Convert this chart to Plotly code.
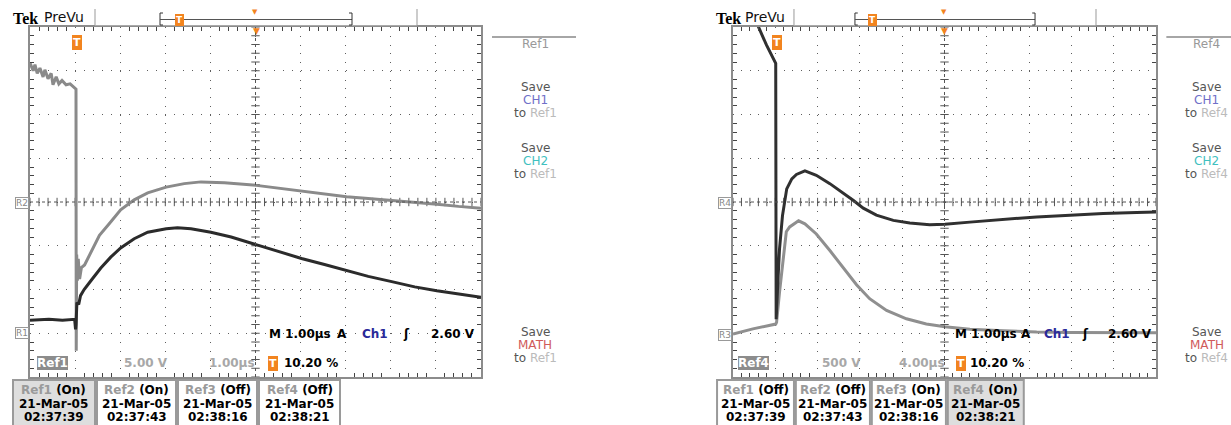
import numpy as np
import plotly.graph_objects as go

W, H = 1231, 425

# ---------------- values read from the two saved screens ----------------
# Left screen: 1.00 us/div, 5.00 V/div, time in us relative to trigger
left_ref2_t = [-1.02, -0.95, -0.91, -0.86, -0.80, -0.73, -0.69, -0.62, -0.55, -0.51, -0.44, -0.38, -0.31,
               -0.22, -0.13, -0.04, 0.00, 0.005, 0.015, 0.03, 0.05, 0.08, 0.12, 0.19, 0.29, 0.52, 0.75,
               0.99, 1.29, 1.59, 2.00, 2.40, 2.77, 3.29, 4.00, 4.48, 5.00, 5.51, 6.00, 6.48, 7.00, 7.51,
               8.00, 8.48, 8.98]
left_ref2_v = [15.9, 15.0, 15.7, 14.7, 15.3, 14.3, 15.1, 14.1, 14.7, 13.4, 14.3, 13.5, 13.9,
               13.4, 13.5, 13.0, 12.9, -17.0, -6.0, -9.0, -6.5, -8.8, -7.5, -7.2, -6.2, -3.8, -2.4,
               -0.9, 0.25, 1.05, 1.7, 2.1, 2.3, 2.2, 1.9, 1.6, 1.25, 0.9, 0.6, 0.4, 0.2, 0.0,
               -0.25, -0.5, -0.7]
left_ref1_t = [-1.02, -0.60, -0.30, -0.03, -0.01, 0.00, 0.02, 0.06, 0.10, 0.18, 0.33, 0.55, 0.77, 0.99,
               1.29, 1.59, 2.00, 2.25, 2.55, 2.99, 3.44, 4.00, 4.48, 5.00, 5.51, 6.00, 6.48, 7.00,
               7.51, 8.00, 8.48, 8.98]
left_ref1_v = [1.5, 1.6, 1.5, 1.6, 0.45, 1.0, 3.5, 3.3, 4.3, 5.0, 6.0, 7.45, 8.7, 9.75,
               10.8, 11.55, 11.95, 12.05, 11.95, 11.55, 11.0, 10.1, 9.35, 8.55, 7.85, 7.15, 6.5, 5.9,
               5.3, 4.85, 4.45, 4.1]

# Right screen: 4.00 us/div, 500 V/div
right_ref4_t = [-4.08, -1.72, -0.92, -0.04, 0.00, 0.16, 0.32, 0.60, 1.00, 1.48, 1.92, 2.72, 3.80, 5.08,
                6.32, 7.28, 8.24, 9.48, 11.08, 12.64, 14.52, 15.96, 18.32, 21.48, 24.64, 27.80, 30.92,
                34.08, 35.92]
right_ref4_v = [2665, 2015, 1795, 1585, -1340, -915, -535, -155, 150, 265, 315, 355, 305, 210,
                105, 20, -70, -150, -210, -240, -260, -255, -230, -200, -170, -150, -130,
                -120, -115]
right_ref3_t = [-4.08, -2.20, -0.04, 0.04, 0.32, 0.64, 0.96, 1.28, 2.12, 2.72, 3.80, 5.08, 6.32, 7.60,
                8.84, 10.44, 12.32, 14.20, 15.96, 18.32, 21.48, 24.64, 27.80, 30.92, 35.92]
right_ref3_v = [-10, 50, 105, 125, 470, 850, 1160, 1215, 1285, 1250, 1135, 945, 755, 555,
                395, 260, 165, 105, 75, 45, 30, 15, 10, 5, 5]

left_buttons = [("Ref1", "(On)", "21-Mar-05", "02:37:39"), ("Ref2", "(On)", "21-Mar-05", "02:37:43"),
                ("Ref3", "(Off)", "21-Mar-05", "02:38:16"), ("Ref4", "(Off)", "21-Mar-05", "02:38:21")]
right_buttons = [("Ref1", "(Off)", "21-Mar-05", "02:37:39"), ("Ref2", "(Off)", "21-Mar-05", "02:37:43"),
                 ("Ref3", "(On)", "21-Mar-05", "02:38:16"), ("Ref4", "(On)", "21-Mar-05", "02:38:21")]

screens = [
    dict(xa="x", ya="y", t0=-1.02, tdiv=1.0, vdiv=5.0, X=lambda x: x, dom=(30, 481),
         traces=[(left_ref2_t, left_ref2_v, 0, "#8a8a8a"), (left_ref1_t, left_ref1_v, -3, "#2b2b2b")],
         ref="Ref1", vscale="5.00 V", tscale="1.00\u00b5s", markers=[("R2", 203), ("R1", 333)],
         buttons=left_buttons, hi=0),
    dict(xa="x2", ya="y2", t0=-4.08, tdiv=4.0, vdiv=500.0, X=lambda x: 733 + (x - 30) * 0.938, dom=(733, 1156),
         traces=[(right_ref3_t, right_ref3_v, -3, "#8f8f8f"), (right_ref4_t, right_ref4_v, 0, "#303030")],
         ref="Ref4", vscale="500 V", tscale="4.00\u00b5s", markers=[("R4", 203), ("R3", 335)],
         buttons=right_buttons, hi=3),
]

TOP, BOT = 27, 377
FONT = "DejaVu Sans"
ORANGE = "#f2841f"

fig = go.Figure()
shapes, annos = [], []


def px(x):
    return x / W


def py(y):
    return 1 - y / H


def line(x0, y0, x1, y1, color="#999", width=1, dash=None):
    shapes.append(dict(type="line", xref="paper", yref="paper", x0=px(x0), y0=py(y0), x1=px(x1), y1=py(y1),
                       line=dict(color=color, width=width, dash=dash)))


def rect(x0, y0, x1, y1, color="#999", fill=None, width=2):
    shapes.append(dict(type="rect", xref="paper", yref="paper", x0=px(x0), y0=py(y0), x1=px(x1), y1=py(y1),
                       line=dict(color=color, width=width), fillcolor=fill, layer="below"))


def txt(x, y, s, size=12, color="#000", bold=False, family=FONT, bg=None, border=None, xanchor="center", pad=0):
    annos.append(dict(x=px(x), y=py(y), xref="paper", yref="paper", text=("<b>%s</b>" % s) if bold else s,
                      showarrow=False, font=dict(family=family, size=size, color=color), xanchor=xanchor,
                      yanchor="middle", bgcolor=bg, bordercolor=border, borderwidth=1 if border else 0,
                      borderpad=pad))


layout_axes = {}
for i, s in enumerate(screens):
    n = "" if i == 0 else "2"
    t0, td = s["t0"], s["tdiv"]
    xw = (s["dom"][1] - s["dom"][0]) / 10.0
    common = dict(showgrid=True, gridcolor="#5e5e5e", gridwidth=1, zeroline=False, showticklabels=False,
                  ticks="", showline=True, linecolor="#8c8c8c", linewidth=2, mirror="allticks",
                  fixedrange=True)
    layout_axes["xaxis" + n] = dict(domain=[px(s["dom"][0]), px(s["dom"][1])], range=[t0, t0 + 10 * td],
                                    tickmode="linear", tick0=t0, dtick=td, anchor="y" + n,
                                    griddash="1px,%.2fpx" % ((BOT - TOP) / 40.0 - 1),
                                    minor=dict(tick0=t0, dtick=td / 5, ticks="inside", ticklen=4,
                                               tickcolor="#444", tickwidth=1, showgrid=False), **common)
    layout_axes["yaxis" + n] = dict(domain=[py(BOT), py(TOP)], range=[-4, 4], tickmode="linear", tick0=-4,
                                    dtick=1, anchor="x" + n, griddash="1px,%.2fpx" % (xw / 5 - 1),
                                    minor=dict(tick0=-4, dtick=0.2, ticks="inside", ticklen=4,
                                               tickcolor="#444", tickwidth=1, showgrid=False), **common)
    cx = t0 + 5 * td
    # centre cross (dense dotted with fine ticks)
    shapes.append(dict(type="line", xref=s["xa"], yref=s["ya"], x0=cx, x1=cx, y0=-4, y1=4,
                       line=dict(color="#555", width=1, dash="dot")))
    shapes.append(dict(type="line", xref=s["xa"], yref=s["ya"], x0=t0, x1=t0 + 10 * td, y0=0, y1=0,
                       line=dict(color="#555", width=1, dash="dot")))
    tx = np.arange(t0, t0 + 10 * td + 1e-9, td / 5)
    ty = np.arange(-4, 4 + 1e-9, 0.2)
    fig.add_trace(go.Scatter(x=tx, y=np.zeros_like(tx), mode="markers", xaxis=s["xa"], yaxis=s["ya"],
                             marker=dict(symbol="line-ns", size=6, line=dict(color="#555", width=1)),
                             hoverinfo="skip"))
    fig.add_trace(go.Scatter(x=np.full_like(ty, cx), y=ty, mode="markers", xaxis=s["xa"], yaxis=s["ya"],
                             marker=dict(symbol="line-ew", size=6, line=dict(color="#555", width=1)),
                             hoverinfo="skip"))
    # waveforms, scaled to divisions with each reference's offset
    for tt, vv, off, col in s["traces"]:
        fig.add_trace(go.Scatter(x=tt, y=np.array(vv) / s["vdiv"] + off, mode="lines", xaxis=s["xa"],
                                 yaxis=s["ya"], line=dict(color=col, width=3), hoverinfo="skip"))

    X = s["X"]
    # header bar
    txt(X(25), 18, "Tek", size=16, bold=True, family="Liberation Serif")
    txt(X(64), 17, "PreVu", size=14, color="#111")
    line(X(95), 9, X(95), 26, "#999")
    line(X(95), 25.5, X(417), 25.5, "#aaa")
    line(X(417), 9, X(417), 26, "#999")
    line(X(160), 13, X(160), 25, "#333")
    line(X(160), 13, X(163), 13, "#333")
    line(X(160), 25, X(163), 25, "#333")
    line(X(160), 19.5, X(352), 19.5, "#555")
    line(X(352), 13, X(352), 25, "#333")
    line(X(349), 13, X(352), 13, "#333")
    line(X(349), 25, X(352), 25, "#333")
    txt(X(179), 20, "T", size=9, color="#fff", bold=True, bg=ORANGE, pad=1)
    txt(X(255), 12, "\u25bc", size=7, color=ORANGE)
    # trigger markers on the graticule
    txt(X(77), 42, "T", size=11, color="#fff", bold=True, bg=ORANGE, pad=1)
    txt(X(256), 31, "\u25bc", size=9, color=ORANGE)
    for lab, yy in s["markers"]:
        txt(X(22), yy, lab, size=9, color="#888", bg="#fff", border="#999")
    # readouts inside graticule
    txt(X(300), 334, "M 1.00\u00b5s", bold=True)
    txt(X(342), 334, "A", bold=True)
    txt(X(375), 334, "Ch1", color="#2a2a9a", bold=True)
    txt(X(406), 334, "\u0283", bold=True)
    txt(X(453), 334, "2.60 V", bold=True)
    txt(X(52), 363, s["ref"], color="#fff", bold=True, bg="#8c8c8c")
    txt(X(146), 363, s["vscale"], color="#a8a8a8", bold=True)
    txt(X(232), 363, s["tscale"], color="#a8a8a8", bold=True)
    txt(X(273), 363, "T", size=11, color="#fff", bold=True, bg=ORANGE, pad=1)
    txt(X(311), 363, "10.20 %", bold=True)
    # side menu
    line(X(492), 37, X(576), 37, "#888", 1.5)
    txt(X(535), 44, s["ref"], size=12, color="#999")
    for y0, ch, chc in [(87, "CH1", "#7070c8"), (148, "CH2", "#3fc0c0"), (332, "MATH", "#d05a5a")]:
        txt(X(535), y0, "Save", color="#555")
        txt(X(535), y0 + 13, ch, color=chc)
        txt(X(535), y0 + 26, "to <span style='color:#bbb'>%s</span>" % s["ref"], color="#555")
    # reference buttons
    edges = [(13, 95), (97, 176), (178, 257), (259, 340)]
    for k, ((a, b), (rn, st, dt, tm)) in enumerate(zip(edges, s["buttons"])):
        rect(X(a), 380, X(b), 432, "#9a9a9a", "#dedede" if k == s["hi"] else "#ffffff")
        c = (X(a) + X(b)) / 2
        txt(c, 390, "<span style='color:#9a9a9a'>%s</span> %s" % (rn, st), bold=True)
        txt(c, 403.5, dt, bold=True)
        txt(c, 417, tm, bold=True)

fig.update_layout(width=W, height=H, margin=dict(l=0, r=0, t=0, b=0), autosize=False,
                  paper_bgcolor="#ffffff", plot_bgcolor="#ffffff", showlegend=False,
                  shapes=shapes, annotations=annos, **layout_axes)
fig.write_html("out.html", config={"displayModeBar": False, "staticPlot": True},
               post_script="document.body.style.margin='0';")
